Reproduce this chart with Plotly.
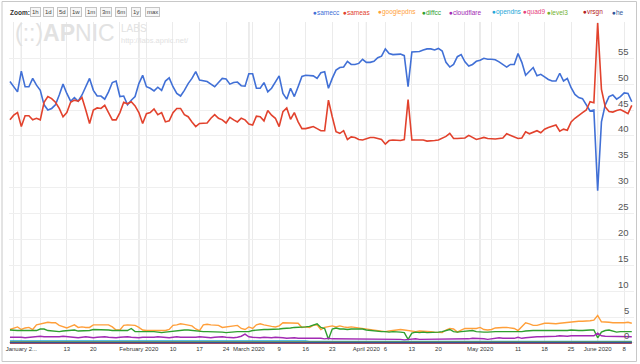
import pandas as pd
import plotly.graph_objects as go

START_DATE = "2019-12-29"

samecc = [
    50.5, 49.6, 48.5, 52.5, 49.5, 49.5, 51.1, 49.8, 48.8, 46.0,
    45.0, 45.3, 46.0, 47.9, 50.0, 48.2, 46.7, 47.4, 46.7, 47.9,
    49.5, 51.1, 48.8, 47.7, 47.7, 47.1, 48.5, 50.3, 50.6, 47.6,
    47.7, 46.0, 46.9, 47.6, 50.1, 51.7, 49.5, 49.2, 48.7, 49.4,
    48.8, 50.6, 51.2, 49.5, 48.2, 47.7, 48.8, 50.1, 51.1, 52.4,
    50.8,
    50.7, 50.5, 50.0, 49.5, 50.3, 51.1, 51.0, 50.0, 50.3, 50.4,
    49.7, 49.6, 52.0, 52.0, 49.2, 49.2, 50.3, 48.5, 49.2, 50.4,
    51.6, 48.2, 47.1, 49.2, 47.6, 49.5, 51.5, 51.7, 51.7, 51.6,
    51.1, 52.2, 52.4, 49.2, 51.1, 52.7, 53.2, 53.3,
    54.4, 53.8, 53.8, 54.0, 54.8, 54.2, 54.2, 54.4, 55.1, 55.4, 56.8,
    55.9, 55.7, 55.7, 55.8, 55.5, 49.5, 56.2, 56.2, 56.3, 56.6, 56.8, 56.8,
    56.6, 56.9, 56.4, 54.2, 53.3, 53.8, 55.3, 55.7, 54.3,
    53.5, 53.8, 54.4, 54.6, 55.0, 54.8, 54.8, 54.7, 54.3, 53.8,
    53.3, 53.8, 53.8, 55.9, 54.2, 51.7, 52.4, 53.2, 51.6, 51.9,
    51.4, 50.9, 50.6, 50.6, 52.1, 50.6, 51.1, 49.3, 48.0, 47.4,
    47.2, 46.0, 44.8, 45.0, 29.4, 42.7, 46.0, 47.6, 47.9, 47.1,
    47.6, 48.3, 48.2, 46.6,
]

sameas = [
    43.1, 44.0, 44.5, 41.8, 43.9, 43.9, 43.1, 43.4, 43.1, 46.5,
    47.6, 47.2, 46.5, 45.3, 43.7, 44.5, 46.5, 46.9, 46.7, 47.4,
    45.0, 42.4, 45.0, 45.4, 45.3, 45.9, 44.5, 43.1, 43.1, 44.5,
    46.5, 46.2, 46.6, 45.8, 44.5, 42.4, 44.3, 44.5, 45.2, 44.1,
    44.5, 42.7, 42.9, 44.5, 45.3, 45.3, 44.1, 43.7, 42.7, 41.8,
    42.4,
    42.5, 42.5, 43.4, 44.1, 43.4, 43.1, 42.5, 43.6, 43.1, 42.7,
    43.4, 43.1, 42.3, 42.1, 43.8, 43.7, 42.9, 44.9, 44.0, 43.4,
    41.8, 44.7, 45.4, 43.2, 44.5, 42.7, 41.4, 41.4, 41.6, 41.8,
    41.4, 41.0, 41.0, 46.9, 43.7, 40.8, 40.5, 41.0, 39.3, 39.8,
    39.7, 39.3, 39.2, 39.5, 39.7, 39.7, 39.5, 39.3, 38.4, 39.1,
    39.2, 39.2, 39.1, 39.3, 47.0, 39.2, 39.2, 39.1,
    39.2, 39.0, 39.0, 39.1, 39.2, 39.6, 39.9, 40.5, 39.5, 39.5, 39.5, 39.6,
    40.1, 39.7, 39.3, 39.5, 39.7, 39.5, 39.4, 39.4, 39.5, 39.6,
    40.4, 40.1, 39.9, 39.5, 39.6, 40.8, 40.4, 40.7, 41.0, 40.6,
    41.3, 41.6, 41.9, 42.1, 40.9, 41.3, 41.1, 42.7, 43.4, 44.0,
    44.5, 45.0, 46.6, 46.4, 61.8, 49.0, 45.6, 44.7, 44.6, 44.9,
    45.1, 44.7, 44.3, 45.9,
]

googlepdns = [
    2.6, 2.9, 3.1, 2.6, 2.9, 3.0, 2.6, 3.5, 3.7, 3.9,
    4.0, 3.9, 3.9, 3.4, 3.2, 2.9, 3.2, 3.5, 3.0, 3.1,
    3.0, 3.0, 3.5, 3.5, 3.5, 3.5, 3.5, 3.1, 2.5, 2.5,
    3.4, 3.5, 3.5, 3.4, 3.0, 2.5, 2.4, 2.4, 2.4, 2.5,
    2.4, 2.4, 2.6, 3.4, 3.5, 3.7, 3.6, 3.5, 3.3, 2.7,
    2.4, 3.5, 3.6, 3.5, 3.4, 3.4, 3.0, 3.1, 3.1, 3.3,
    3.4, 2.8, 2.6, 3.1, 2.8, 3.5, 3.7, 3.5, 3.3, 3.2,
    3.1, 3.3, 3.9, 3.9, 3.8, 3.8, 3.8, 3.0, 3.1, 3.0,
    3.4, 3.5, 2.6,
    3.0, 3.1, 3.3, 3.1, 3.3, 3.1, 3.0, 3.1, 3.0, 2.9,
    2.8, 2.8, 2.7, 2.6, 2.4, 2.3, 2.2, 2.3, 2.4, 2.5,
    2.6, 2.5, 2.4, 2.2, 2.2, 2.3, 2.3, 2.2, 2.2, 2.1,
    2.0, 2.0, 2.5, 2.8, 2.7, 2.1, 2.5, 2.8, 2.8, 2.8,
    2.8, 3.0, 2.6, 2.5, 2.6, 2.9, 3.0, 3.0, 3.0, 2.9,
    2.8, 2.4, 3.1, 3.9, 3.7, 3.4, 3.4, 3.6, 3.8, 3.8,
    3.7, 3.7, 3.8, 3.9, 4.0, 4.1, 4.1, 4.2, 4.2, 4.2,
    4.3, 4.4, 5.3, 4.1, 4.1, 4.0, 3.9, 3.9, 3.8, 3.9,
    4.0, 3.8,
]

diffcc = [
    2.5, 2.4, 2.4, 2.4, 2.4, 2.5, 2.4, 2.4, 2.7, 2.7,
    2.4, 2.3, 2.2, 2.2, 2.3, 2.4, 2.4, 2.5, 2.3, 2.3,
    2.4, 2.4, 2.6, 2.6, 2.6, 2.6, 2.5, 2.4, 2.4, 2.3,
    2.3, 2.4, 2.8, 2.2, 2.2, 2.2, 2.3, 2.3, 2.2, 2.1,
    2.0, 2.1, 2.2, 2.3, 2.4, 2.5, 2.5, 2.5, 2.4, 2.4,
    2.2, 2.2, 2.2, 2.2, 2.2, 2.2, 2.1, 2.0, 2.1, 2.2,
    2.2, 2.2, 2.2, 2.2, 2.4, 2.5, 2.6, 2.6, 2.6, 2.6,
    2.6, 2.7, 2.8, 2.8, 2.9, 3.0, 3.0, 3.0, 3.1, 3.2,
    3.4, 3.7, 3.0, 2.8, 0.7, 2.7, 2.9, 2.7, 2.7, 2.6,
    2.7, 2.7, 2.6, 2.7, 2.5, 2.4, 2.3, 2.3, 2.2, 2.2,
    2.1, 2.2, 2.2, 2.1, 2.0, 0.7, 1.9, 2.1, 2.0, 2.1,
    2.0, 2.0, 2.0, 2.1, 2.2, 2.4, 2.6, 2.2, 2.1, 2.2,
    2.3, 2.4, 2.4, 2.2, 2.1, 2.1, 2.1, 2.2, 2.2, 2.2,
    2.2, 2.2, 2.1, 2.2, 2.2, 2.2, 2.3, 2.4, 2.4, 2.4,
    2.4, 2.3, 2.4, 2.4, 2.4, 2.4, 2.4, 2.4, 2.5, 2.4,
    2.4, 2.4, 2.5, 2.5, 2.5, 1.0, 2.1, 2.4, 2.5, 2.3,
    2.1, 2.2, 2.2, 2.2, 2.2,
]

cloudflare = [
    1.1, 1.1, 1.2, 1.1, 1.0, 1.1, 1.2, 1.2, 1.3, 1.2, 1.2, 1.1, 1.1, 1.2, 1.3, 1.2, 1.1, 1.1, 1.0, 1.1, 1.2,
    1.1, 1.0, 1.1, 1.2, 1.2, 1.1, 1.0, 1.0, 1.1, 1.2, 1.2, 1.1, 1.0, 1.0, 1.1, 1.1, 1.0, 1.1, 1.2, 1.1,
    1.0, 1.0, 1.1, 1.2, 1.1, 1.1, 1.0, 1.0, 1.1, 1.2, 1.1, 1.1, 1.0, 1.1, 1.2, 1.2, 1.1, 1.0, 1.0, 1.1,
    1.3, 1.7, 1.2, 1.1, 1.0, 1.0, 1.1, 1.0, 1.0, 1.1, 1.1, 1.0, 0.9, 1.0, 1.0, 0.9, 0.9, 0.9, 1.0, 0.9,
    0.9, 0.9, 0.8, 0.9, 0.8, 0.8, 0.8, 0.8, 0.7, 0.8, 0.8, 0.7, 0.7, 0.8, 0.8, 0.7, 0.7, 0.7, 0.8, 0.7,
    0.7, 0.7, 0.7, 0.6, 0.7, 0.8, 0.8, 0.7, 0.7, 0.7, 0.7, 0.8, 0.8, 0.7, 0.7, 0.8, 0.8, 0.7, 0.7, 0.8,
    0.8, 0.9, 0.9, 0.8, 0.8, 0.7, 0.8, 0.9, 1.0, 0.9, 0.9, 0.8, 0.9, 1.1, 0.9, 1.0, 1.1, 1.1, 1.2, 1.2,
    1.2, 1.3, 1.2, 1.3, 1.4, 1.3, 1.3, 1.4, 1.4, 1.3, 1.4, 1.4, 1.3, 1.4, 1.9, 1.4, 1.3, 1.3, 1.3, 1.2,
    1.2, 1.3, 1.3, 1.2,
]

opendns = [
    0.4, 0.4, 0.4, 0.5, 0.4, 0.4, 0.4, 0.4, 0.5, 0.4, 0.4, 0.4, 0.4, 0.4, 0.5,
    0.4, 0.4, 0.4, 0.4, 0.4, 0.4, 0.5, 0.4, 0.4, 0.4, 0.4, 0.4, 0.4, 0.5, 0.4,
    0.4, 0.4, 0.4, 0.4, 0.4, 0.4, 0.5, 0.4, 0.4, 0.4, 0.4, 0.4, 0.4, 0.4, 0.5,
    0.4, 0.4, 0.4, 0.4, 0.4, 0.4, 0.4, 0.5, 0.4, 0.4, 0.4, 0.4, 0.4, 0.4, 0.4,
    0.5, 0.4, 0.4, 0.4, 0.4, 0.4, 0.4, 0.4, 0.4, 0.5, 0.4, 0.4, 0.4, 0.4, 0.4,
    0.4, 0.4, 0.4, 0.4, 0.3, 0.3, 0.3, 0.3, 0.3, 0.3, 0.3, 0.3, 0.3, 0.3, 0.3,
    0.3, 0.3, 0.3, 0.3, 0.3, 0.3, 0.3, 0.3, 0.3, 0.3, 0.3, 0.3, 0.3, 0.3, 0.3,
    0.3, 0.3, 0.3, 0.3, 0.3, 0.3, 0.3, 0.3, 0.3, 0.3, 0.3, 0.3, 0.3, 0.3, 0.3,
    0.3, 0.3, 0.3, 0.3, 0.3, 0.3, 0.3, 0.3, 0.3, 0.3, 0.3, 0.3, 0.3, 0.3, 0.3,
    0.3, 0.3, 0.3, 0.3, 0.3, 0.3, 0.3, 0.3, 0.3, 0.3, 0.3, 0.3, 0.3, 0.3, 0.3,
    0.3, 0.3, 0.3, 0.3, 0.3, 0.3, 0.3, 0.3, 0.3, 0.3, 0.3, 0.3, 0.3, 0.3, 0.3,
]

quad9 = [
    0.1, 0.1, 0.1, 0.1, 0.1, 0.1, 0.1, 0.1, 0.1, 0.1, 0.1, 0.1, 0.1, 0.1, 0.1,
    0.1, 0.1, 0.1, 0.1, 0.1, 0.1, 0.1, 0.1, 0.1, 0.1, 0.1, 0.1, 0.1, 0.1, 0.1,
    0.1, 0.1, 0.1, 0.1, 0.1, 0.1, 0.1, 0.1, 0.1, 0.1, 0.1, 0.1, 0.1, 0.1, 0.1,
    0.1, 0.1, 0.1, 0.1, 0.1, 0.1, 0.1, 0.1, 0.1, 0.1, 0.1, 0.1, 0.1, 0.1, 0.1,
    0.1, 0.1, 0.1, 0.1, 0.1, 0.1, 0.1, 0.1, 0.1, 0.1, 0.1, 0.1, 0.1, 0.1, 0.1,
    0.1, 0.1, 0.1, 0.1, 0.1, 0.1, 0.1, 0.1, 0.1, 0.1, 0.1, 0.1, 0.1, 0.1, 0.1,
    0.1, 0.1, 0.1, 0.1, 0.1, 0.1, 0.1, 0.1, 0.1, 0.1, 0.1, 0.1, 0.1, 0.1, 0.1,
    0.1, 0.1, 0.1, 0.1, 0.1, 0.1, 0.1, 0.1, 0.1, 0.1, 0.1, 0.1, 0.1, 0.1, 0.1,
    0.1, 0.1, 0.1, 0.1, 0.1, 0.1, 0.1, 0.1, 0.1, 0.1, 0.1, 0.1, 0.1, 0.1, 0.1,
    0.1, 0.1, 0.1, 0.1, 0.1, 0.1, 0.1, 0.1, 0.1, 0.1, 0.1, 0.1, 0.1, 0.1, 0.1,
    0.1, 0.1, 0.1, 0.1, 0.1, 0.1, 0.1, 0.1, 0.1, 0.1, 0.1, 0.1, 0.1, 0.1, 0.1,
]

level3 = [
    0.2, 0.2, 0.2, 0.2, 0.2, 0.2, 0.2, 0.2, 0.2, 0.2, 0.2, 0.2, 0.2, 0.2, 0.2,
    0.2, 0.2, 0.2, 0.2, 0.2, 0.2, 0.2, 0.2, 0.2, 0.2, 0.2, 0.2, 0.2, 0.2, 0.2,
    0.2, 0.2, 0.2, 0.2, 0.2, 0.2, 0.2, 0.2, 0.2, 0.2, 0.2, 0.2, 0.2, 0.2, 0.2,
    0.2, 0.2, 0.2, 0.2, 0.2, 0.2, 0.2, 0.2, 0.2, 0.2, 0.2, 0.2, 0.2, 0.2, 0.2,
    0.2, 0.2, 0.2, 0.2, 0.2, 0.2, 0.2, 0.2, 0.2, 0.2, 0.2, 0.2, 0.2, 0.2, 0.2,
    0.2, 0.2, 0.2, 0.2, 0.2, 0.2, 0.2, 0.2, 0.2, 0.2, 0.2, 0.2, 0.2, 0.2, 0.2,
    0.2, 0.2, 0.2, 0.2, 0.2, 0.2, 0.2, 0.2, 0.2, 0.2, 0.2, 0.2, 0.2, 0.2, 0.2,
    0.2, 0.2, 0.2, 0.2, 0.2, 0.2, 0.2, 0.2, 0.2, 0.2, 0.2, 0.2, 0.2, 0.2, 0.2,
    0.2, 0.2, 0.2, 0.2, 0.2, 0.2, 0.2, 0.2, 0.2, 0.2, 0.2, 0.2, 0.2, 0.2, 0.2,
    0.2, 0.2, 0.2, 0.2, 0.2, 0.2, 0.2, 0.2, 0.2, 0.2, 0.2, 0.2, 0.2, 0.2, 0.2,
    0.2, 0.2, 0.2, 0.2, 0.2, 0.2, 0.2, 0.2, 0.2, 0.2, 0.2, 0.2, 0.2, 0.2, 0.2,
]

vrsgn = [
    0.0, 0.0, 0.0, 0.0, 0.0, 0.0, 0.0, 0.0, 0.0, 0.0, 0.0, 0.0, 0.0, 0.0, 0.0,
    0.0, 0.0, 0.0, 0.0, 0.0, 0.0, 0.0, 0.0, 0.0, 0.0, 0.0, 0.0, 0.0, 0.0, 0.0,
    0.0, 0.0, 0.0, 0.0, 0.0, 0.0, 0.0, 0.0, 0.0, 0.0, 0.0, 0.0, 0.0, 0.0, 0.0,
    0.0, 0.0, 0.0, 0.0, 0.0, 0.0, 0.0, 0.0, 0.0, 0.0, 0.0, 0.0, 0.0, 0.0, 0.0,
    0.0, 0.0, 0.0, 0.0, 0.0, 0.0, 0.0, 0.0, 0.0, 0.0, 0.0, 0.0, 0.0, 0.0, 0.0,
    0.0, 0.0, 0.0, 0.0, 0.0, 0.0, 0.0, 0.0, 0.0, 0.0, 0.0, 0.0, 0.0, 0.0, 0.0,
    0.0, 0.0, 0.0, 0.0, 0.0, 0.0, 0.0, 0.0, 0.0, 0.0, 0.0, 0.0, 0.0, 0.0, 0.0,
    0.0, 0.0, 0.0, 0.0, 0.0, 0.0, 0.0, 0.0, 0.0, 0.0, 0.0, 0.0, 0.0, 0.0, 0.0,
    0.0, 0.0, 0.0, 0.0, 0.0, 0.0, 0.0, 0.0, 0.0, 0.0, 0.0, 0.0, 0.0, 0.0, 0.0,
    0.0, 0.0, 0.0, 0.0, 0.0, 0.0, 0.0, 0.0, 0.0, 0.0, 0.0, 0.0, 0.0, 0.0, 0.0,
    0.0, 0.0, 0.0, 0.0, 0.0, 0.0, 0.0, 0.0, 0.0, 0.0, 0.0, 0.0, 0.0, 0.0, 0.0,
]

he = [
    0.1, 0.1, 0.1, 0.1, 0.1, 0.1, 0.1, 0.1, 0.1, 0.1, 0.1, 0.1, 0.1, 0.1, 0.1,
    0.1, 0.1, 0.1, 0.1, 0.1, 0.1, 0.1, 0.1, 0.1, 0.1, 0.1, 0.1, 0.1, 0.1, 0.1,
    0.1, 0.1, 0.1, 0.1, 0.1, 0.1, 0.1, 0.1, 0.1, 0.1, 0.1, 0.1, 0.1, 0.1, 0.1,
    0.1, 0.1, 0.1, 0.1, 0.1, 0.1, 0.1, 0.1, 0.1, 0.1, 0.1, 0.1, 0.1, 0.1, 0.1,
    0.1, 0.1, 0.1, 0.1, 0.1, 0.1, 0.1, 0.1, 0.1, 0.1, 0.1, 0.1, 0.1, 0.1, 0.1,
    0.1, 0.1, 0.1, 0.1, 0.1, 0.1, 0.1, 0.1, 0.1, 0.1, 0.1, 0.1, 0.1, 0.1, 0.1,
    0.1, 0.1, 0.1, 0.1, 0.1, 0.1, 0.1, 0.1, 0.1, 0.1, 0.1, 0.1, 0.1, 0.1, 0.1,
    0.1, 0.1, 0.1, 0.1, 0.1, 0.1, 0.1, 0.1, 0.1, 0.1, 0.1, 0.1, 0.1, 0.1, 0.1,
    0.1, 0.1, 0.1, 0.1, 0.1, 0.1, 0.1, 0.1, 0.1, 0.1, 0.1, 0.1, 0.1, 0.1, 0.1,
    0.1, 0.1, 0.1, 0.1, 0.1, 0.1, 0.1, 0.1, 0.1, 0.1, 0.1, 0.1, 0.1, 0.1, 0.1,
    0.1, 0.1, 0.1, 0.1, 0.1, 0.1, 0.1, 0.1, 0.1, 0.1, 0.1, 0.1, 0.1, 0.1, 0.1,
]

series_names = ["samecc", "sameas", "googlepdns", "diffcc", "cloudflare",
                "opendns", "quad9", "level3", "vrsgn", "he"]
series_values = [samecc, sameas, googlepdns, diffcc, cloudflare,
                 opendns, quad9, level3, vrsgn, he]

tick_dates = ["2019-12-30", "2020-01-01", "2020-01-06", "2020-01-13", "2020-01-20",
              "2020-01-27", "2020-02-01", "2020-02-03", "2020-02-10", "2020-02-17",
              "2020-02-24", "2020-03-01", "2020-03-02", "2020-03-09", "2020-03-16",
              "2020-03-23", "2020-03-30", "2020-04-01", "2020-04-06", "2020-04-13",
              "2020-04-20", "2020-04-27", "2020-05-01", "2020-05-04", "2020-05-11",
              "2020-05-18", "2020-05-25", "2020-06-01", "2020-06-08"]
tick_labels = ["", "January 2...", "", "13", "20",
               "", "February 2020", "", "10", "17",
               "24", "March 2020", "", "9", "16",
               "23", "", "April 2020", "6", "13",
               "20", "", "May 2020", "", "11",
               "18", "25", "June 2020", "8"]
month_starts = ["2020-01-01", "2020-02-01", "2020-03-01", "2020-04-01",
                "2020-05-01", "2020-06-01"]
y_ticks = [0, 5, 10, 15, 20, 25, 30, 35, 40, 45, 50, 55]
zoom_buttons = ["1h", "1d", "5d", "1w", "1m", "3m", "6m", "1y", "max"]

for name, vals in zip(series_names, series_values):
    assert len(vals) == 165, (name, len(vals))

# ---- styling / layout ----
colors = ["#4170d6", "#e2422d", "#ff9f3a", "#2f9f2f", "#a22ab3",
          "#25a7d8", "#e6427c", "#74b232", "#b52121", "#30559a"]
W, H = 640, 364
ML, MR, MT, MB = 9, 6, 22, 20
PW, PH = W - ML - MR, H - MT - MB
FONT = "Arial, Liberation Sans, sans-serif"


def px(x):
    return (x - ML) / PW


def py(y):
    return (H - MB - y) / PH


dates = pd.date_range(START_DATE, periods=len(samecc), freq="D")

fig = go.Figure()
for i, (name, vals) in enumerate(zip(series_names, series_values)):
    fig.add_trace(go.Scatter(
        x=dates, y=vals, mode="lines", name=name,
        line=dict(color=colors[i], width=1.6 if i < 2 else 1.4),
        showlegend=False, hoverinfo="skip",
    ))

shapes = []
for d in month_starts:
    shapes.append(dict(type="line", xref="x", yref="paper", x0=d, x1=d, y0=0, y1=1,
                       line=dict(color="#c9c9c9", width=1), layer="below"))
shapes.append(dict(type="rect", xref="paper", yref="paper",
                   x0=px(2), x1=px(636.5), y0=py(361.5), y1=py(1.5),
                   line=dict(color="#c8c8c8", width=1), layer="below"))

annotations = []
# y-axis value labels (drawn inside the plot, just above each gridline)
for v in y_ticks:
    annotations.append(dict(xref="paper", yref="y", x=px(631), y=v,
                            xanchor="right", yanchor="middle", yshift=7,
                            showarrow=False, text=str(v),
                            font=dict(family=FONT, size=9.5, color="#555")))
# watermark
annotations.append(dict(xref="paper", yref="paper", x=px(13), y=py(33), xanchor="left",
                        yanchor="middle", showarrow=False,
                        text="(::)<b>AP</b>NIC",
                        font=dict(family=FONT, size=23, color="#e2e2e2")))
annotations.append(dict(xref="paper", yref="paper", x=px(119), y=py(28), xanchor="left",
                        yanchor="middle", showarrow=False, text="LABS",
                        font=dict(family=FONT, size=10, color="#e2e2e2")))
annotations.append(dict(xref="paper", yref="paper", x=px(119), y=py(40), xanchor="left",
                        yanchor="middle", showarrow=False, text="http://labs.apnic.net/",
                        font=dict(family=FONT, size=7.5, color="#e2e2e2")))
# zoom bar
annotations.append(dict(xref="paper", yref="paper", x=px(8), y=py(12), xanchor="left",
                        yanchor="middle", showarrow=False, text="<b>Zoom:</b>",
                        font=dict(family=FONT, size=6.5, color="#333")))
zoom_x = [35, 48, 62, 76, 91, 106, 121, 136, 152]
for lbl, xx in zip(zoom_buttons, zoom_x):
    annotations.append(dict(xref="paper", yref="paper", x=px(xx), y=py(12),
                            xanchor="center", yanchor="middle", showarrow=False,
                            text=lbl, bgcolor="#f7f7f7", bordercolor="#c4c4c4",
                            borderwidth=1, borderpad=1,
                            font=dict(family=FONT, size=6, color="#444")))
# legend
legend_x = [311, 341, 376, 420, 447, 490, 521, 545, 581, 610]
for name, c, xx in zip(series_names, colors, legend_x):
    annotations.append(dict(xref="paper", yref="paper", x=px(xx), y=py(12),
                            xanchor="left", yanchor="middle", showarrow=False,
                            text=f"●{name}",
                            font=dict(family=FONT, size=6.5, color=c)))

fig.update_layout(
    width=W, height=H, autosize=False,
    margin=dict(l=ML, r=MR, t=MT, b=MB, pad=0),
    paper_bgcolor="white", plot_bgcolor="white",
    font=dict(family=FONT, color="#333"),
    shapes=shapes, annotations=annotations,
    xaxis=dict(
        type="date", range=["2019-12-28 18:00", "2020-06-10 14:00"],
        tickmode="array", tickvals=tick_dates, ticktext=tick_labels,
        showgrid=True, gridcolor="#ebebeb", gridwidth=1,
        zeroline=False, showline=False, ticks="",
        tickfont=dict(family=FONT, size=6, color="#333"),
        ticklabeloverflow="allow",
        fixedrange=True,
    ),
    yaxis=dict(
        range=[-0.2, 62.0], side="right",
        tickmode="array", tickvals=y_ticks, showticklabels=False,
        showgrid=True, gridcolor="#efefef", gridwidth=1,
        zeroline=False, showline=False, ticks="",
        fixedrange=True,
    ),
)

fig.write_html("out.html",
               config={"displayModeBar": False, "staticPlot": True},
               post_script="document.body.style.margin='0px';document.body.style.padding='0px';")
